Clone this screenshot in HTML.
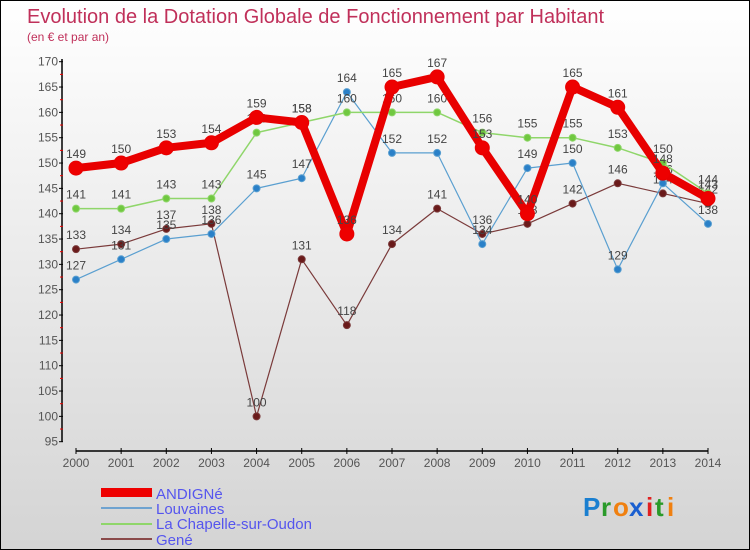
<!DOCTYPE html>
<html><head><meta charset="utf-8"><style>
body{margin:0}
#c{width:750px;height:550px;position:relative;box-sizing:border-box;border:1px solid #000;background:linear-gradient(#ffffff,#d4d4d4);font-family:"Liberation Sans",sans-serif;overflow:hidden}
text{font-family:"Liberation Sans",sans-serif}
</style></head><body>
<div id="c">
<svg id="s" width="750" height="550">
<text x="26" y="22" font-size="20" fill="#c0305a">Evolution de la Dotation Globale de Fonctionnement par Habitant</text>
<text x="26" y="40" font-size="12" fill="#c0305a">(en € et par an)</text>
<g id="axes"></g><g id="series"></g>
<g>
<rect x="100" y="487" width="51" height="9" fill="#e00"/>
<text x="155" y="498" font-size="15" fill="#5555ee">ANDIGNé</text>
<rect x="100" y="506" width="51" height="2" fill="#6fa3d0"/>
<text x="155" y="513" font-size="15" fill="#5555ee">Louvaines</text>
<rect x="100" y="522" width="51" height="2" fill="#8fd66a"/>
<text x="155" y="528" font-size="15" fill="#5555ee">La Chapelle-sur-Oudon</text>
<rect x="100" y="537" width="51" height="2" fill="#8a4a4a"/>
<text x="155" y="544" font-size="15" fill="#5555ee">Gené</text>
</g>
<g font-size="26" font-weight="bold">
<text x="582" y="515" fill="#1a7fd0">P</text><text x="600" y="515" fill="#2a9a2a">r</text><text x="612" y="515" fill="#f08010">o</text><text x="628" y="515" fill="#1a5fd0">x</text><text x="645" y="515" fill="#e02020">i</text><text x="654" y="515" fill="#2a9a2a">t</text><text x="666" y="515" fill="#f08010">i</text>
</g>
</svg></div>
<script>
const years=[2000,2001,2002,2003,2004,2005,2006,2007,2008,2009,2010,2011,2012,2013,2014];
const yTicks=[95,100,105,110,115,120,125,130,135,140,145,150,155,160,165,170];
const andigne=[149,150,153,154,159,158,136,165,167,153,140,165,161,148,143];
const louvaines=[127,131,135,136,145,147,164,152,152,134,149,150,129,146,138];
const chapelle=[141,141,143,143,156,158,160,160,160,156,155,155,153,150,144];
const gene=[133,134,137,138,100,131,118,134,141,136,138,142,146,144,142];
const NS='http://www.w3.org/2000/svg';
const xs=i=>75+i*(707-75)/14;
const ys=v=>440.7-(v-95)*(440.7-60.7)/75;
function mk(t,a,p){const e=document.createElementNS(NS,t);for(const k in a)e.setAttribute(k,a[k]);p.appendChild(e);return e;}
const ax=document.getElementById('axes');
const yl=mk('line',{x1:61,y1:58,x2:61,y2:441,stroke:'#000','stroke-width':1.5},ax);


yTicks.forEach(v=>{
 mk('line',{x1:58,x2:62,y1:ys(v),y2:ys(v),stroke:'#000'},ax);
 if(v<170)mk('line',{x1:59,x2:62,y1:ys(v+2.5),y2:ys(v+2.5),stroke:'#e00'},ax);
 const t=mk('text',{x:57,y:ys(v)+4,'font-size':12,'text-anchor':'end',fill:'#555'},ax);t.textContent=v;
 
 
});
const xl=mk('line',{x1:75,y1:450,x2:707,y2:450,stroke:'#000','stroke-width':1.5},ax);


years.forEach((y,i)=>{
 mk('line',{x1:xs(i),x2:xs(i),y1:447,y2:453,stroke:'#000'},ax);
 const t=mk('text',{x:xs(i),y:466,'font-size':12,'text-anchor':'middle',fill:'#555'},ax);t.textContent=y;
 
 
});
const sg=document.getElementById('series');
function draw(data,color,w,r,name,dot){
 const g=mk('g',{},sg);
 
 
 mk('polyline',{points:data.map((v,i)=>xs(i)+','+ys(v)).join(' '),fill:'none',stroke:color,'stroke-width':w,'stroke-linejoin':'round'},g);
 data.forEach((v,i)=>{
  const c=mk('circle',{cx:xs(i),cy:ys(v),r:r,fill:dot,stroke:color,'stroke-width':1},g);
  
  
  const t=mk('text',{x:xs(i),y:ys(v)-10,'font-size':12,'text-anchor':'middle',fill:'#444'},g);t.textContent=v;
  
  
 });
}
draw(gene,'#7a3a3a',1.2,3.5,'gene','#6a1a1a');
draw(louvaines,'#5a9fd0',1.2,3.5,'louvaines','#2a80c8');
draw(chapelle,'#8fd66a',1.5,3.5,'chapelle','#70c840');
draw(andigne,'#e80000',8,7,'andigne','#e00');
</script>
</body></html>
